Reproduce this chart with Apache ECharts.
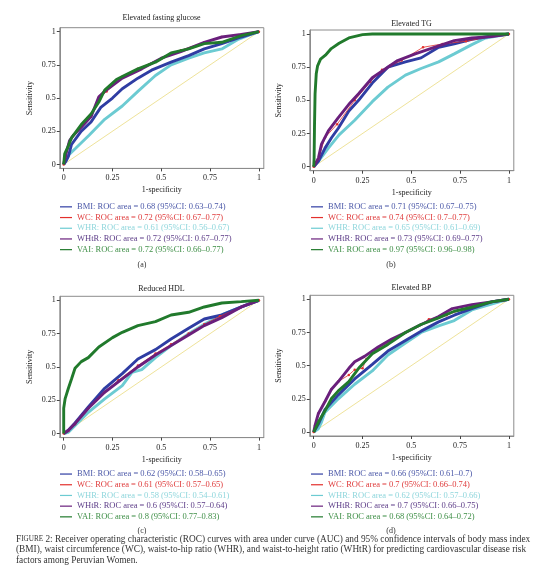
<!DOCTYPE html>
<html>
<head>
<meta charset="utf-8">
<script src="https://cdn.jsdelivr.net/npm/echarts@6/dist/echarts.min.js"></script>
<style>
html,body{margin:0;padding:0;background:#fff;}
#c{width:539px;height:588px;}
</style>
</head>
<body>
<div id="c"></div>
<script>
// ---------- data ----------
const tickVals = [0, 0.25, 0.5, 0.75, 1];
const refLine = [[0, 0], [1, 1]];

// (a) Elevated fasting glucose
const fgLabels = [
  "BMI: ROC area = 0.68 (95%CI: 0.63–0.74)",
  "WC: ROC area = 0.72 (95%CI: 0.67–0.77)",
  "WHR: ROC area = 0.61 (95%CI: 0.56–0.67)",
  "WHtR: ROC area = 0.72 (95%CI: 0.67–0.77)",
  "VAI: ROC area = 0.72 (95%CI: 0.66–0.77)"
];
const fgBMI = [[0,0],[0.01,0.02],[0.024,0.06],[0.04,0.15],[0.09,0.25],[0.14,0.32],[0.19,0.43],[0.25,0.5],[0.3,0.57],[0.38,0.65],[0.45,0.71],[0.55,0.77],[0.64,0.82],[0.72,0.87],[0.81,0.91],[0.91,0.96],[1,1]];
const fgWC = [[0,0],[0.01,0.06],[0.03,0.17],[0.05,0.22],[0.09,0.29],[0.14,0.36],[0.18,0.5],[0.22,0.55],[0.3,0.66],[0.38,0.72],[0.5,0.8],[0.6,0.86],[0.72,0.92],[0.81,0.96],[0.91,0.98],[1,1]];
const fgWHR = [[0,0],[0.024,0.07],[0.06,0.12],[0.13,0.22],[0.21,0.34],[0.3,0.44],[0.38,0.55],[0.47,0.67],[0.55,0.75],[0.64,0.8],[0.72,0.84],[0.81,0.87],[0.89,0.94],[0.98,0.99],[1,1]];
const fgWHtR = [[0,0],[0.01,0.07],[0.03,0.18],[0.05,0.22],[0.09,0.28],[0.14,0.36],[0.18,0.51],[0.21,0.55],[0.3,0.65],[0.4,0.72],[0.5,0.8],[0.6,0.85],[0.72,0.92],[0.81,0.96],[0.91,0.98],[1,1]];
const fgVAI = [[0,0],[0.005,0.08],[0.024,0.14],[0.04,0.2],[0.09,0.3],[0.14,0.38],[0.18,0.47],[0.21,0.56],[0.27,0.64],[0.31,0.67],[0.38,0.72],[0.47,0.77],[0.55,0.84],[0.64,0.87],[0.72,0.91],[0.81,0.92],[0.91,0.97],[1,1]];

// (b) Elevated TG
const tgLabels = [
  "BMI: ROC area = 0.71 (95%CI: 0.67–0.75)",
  "WC: ROC area = 0.74 (95%CI: 0.7–0.77)",
  "WHR: ROC area = 0.65 (95%CI: 0.61–0.69)",
  "WHtR: ROC area = 0.73 (95%CI: 0.69–0.77)",
  "VAI: ROC area = 0.97 (95%CI: 0.96–0.98)"
];
const tgBMI = [[0,0],[0.024,0.04],[0.058,0.14],[0.092,0.22],[0.126,0.29],[0.18,0.42],[0.23,0.5],[0.3,0.63],[0.38,0.75],[0.47,0.79],[0.55,0.82],[0.64,0.9],[0.72,0.925],[0.81,0.96],[0.91,0.985],[1,1]];
const tgWC = [[0,0],[0.024,0.06],[0.058,0.22],[0.12,0.32],[0.21,0.5],[0.29,0.64],[0.35,0.73],[0.39,0.76],[0.45,0.8],[0.56,0.9],[0.66,0.925],[0.78,0.945],[0.9,0.98],[1,1]];
const tgWHR = [[0,0],[0.024,0.04],[0.075,0.14],[0.13,0.24],[0.21,0.35],[0.3,0.49],[0.38,0.6],[0.47,0.69],[0.55,0.74],[0.64,0.79],[0.72,0.85],[0.81,0.92],[0.88,0.97],[1,1]];
const tgWHtR = [[0,0],[0.024,0.065],[0.04,0.17],[0.075,0.27],[0.126,0.37],[0.18,0.47],[0.23,0.55],[0.3,0.67],[0.37,0.74],[0.43,0.8],[0.52,0.85],[0.64,0.91],[0.72,0.95],[0.81,0.97],[0.91,0.98],[1,1]];
const tgVAI = [[0,0],[0.002,0.06],[0.004,0.3],[0.007,0.55],[0.013,0.7],[0.02,0.76],[0.035,0.81],[0.06,0.84],[0.09,0.89],[0.13,0.93],[0.18,0.97],[0.25,0.995],[0.3,1],[1,1]];

// (c) Reduced HDL
const hdlLabels = [
  "BMI: ROC area = 0.62 (95%CI: 0.58–0.65)",
  "WC: ROC area = 0.61 (95%CI: 0.57–0.65)",
  "WHR: ROC area = 0.58 (95%CI: 0.54–0.61)",
  "WHtR: ROC area = 0.6 (95%CI: 0.57–0.64)",
  "VAI: ROC area = 0.8 (95%CI: 0.77–0.83)"
];
const hdlBMI = [[0,0],[0.024,0.025],[0.058,0.08],[0.126,0.2],[0.21,0.34],[0.3,0.45],[0.38,0.56],[0.47,0.63],[0.55,0.71],[0.64,0.79],[0.72,0.86],[0.81,0.89],[0.91,0.95],[1,1]];
const hdlWC = [[0,0],[0.024,0.02],[0.058,0.07],[0.126,0.19],[0.21,0.31],[0.28,0.4],[0.38,0.51],[0.47,0.6],[0.55,0.67],[0.64,0.75],[0.72,0.82],[0.8,0.88],[0.91,0.95],[1,1]];
const hdlWHR = [[0,0],[0.024,0.01],[0.126,0.16],[0.21,0.26],[0.3,0.36],[0.35,0.46],[0.4,0.48],[0.47,0.57],[0.55,0.66],[0.64,0.75],[0.72,0.82],[0.81,0.89],[0.91,0.95],[1,1]];
const hdlWHtR = [[0,0],[0.024,0.025],[0.058,0.075],[0.126,0.19],[0.21,0.31],[0.3,0.41],[0.38,0.5],[0.47,0.59],[0.55,0.66],[0.64,0.74],[0.72,0.81],[0.81,0.87],[0.91,0.95],[1,1]];
const hdlVAI = [[0,0],[0,0.19],[0.007,0.26],[0.024,0.34],[0.04,0.41],[0.058,0.49],[0.09,0.54],[0.126,0.57],[0.18,0.65],[0.25,0.72],[0.3,0.76],[0.38,0.81],[0.47,0.84],[0.55,0.89],[0.64,0.91],[0.72,0.95],[0.81,0.98],[0.91,0.99],[1,1]];

// (d) Elevated BP
const bpLabels = [
  "BMI: ROC area = 0.66 (95%CI: 0.61–0.7)",
  "WC: ROC area = 0.7 (95%CI: 0.66–0.74)",
  "WHR: ROC area = 0.62 (95%CI: 0.57–0.66)",
  "WHtR: ROC area = 0.7 (95%CI: 0.66–0.75)",
  "VAI: ROC area = 0.68 (95%CI: 0.64–0.72)"
];
const bpBMI = [[0,0],[0.024,0.06],[0.058,0.17],[0.126,0.28],[0.21,0.4],[0.3,0.51],[0.38,0.61],[0.47,0.69],[0.55,0.76],[0.64,0.83],[0.72,0.88],[0.81,0.93],[0.91,0.98],[1,1]];
const bpWC = [[0,0],[0.007,0.05],[0.024,0.14],[0.058,0.23],[0.09,0.32],[0.126,0.38],[0.18,0.43],[0.21,0.47],[0.25,0.48],[0.27,0.55],[0.33,0.63],[0.4,0.69],[0.47,0.75],[0.55,0.81],[0.59,0.85],[0.68,0.88],[0.81,0.95],[0.91,0.98],[1,1]];
const bpWHR = [[0,0],[0.024,0.025],[0.04,0.075],[0.058,0.15],[0.126,0.25],[0.21,0.36],[0.3,0.46],[0.38,0.58],[0.47,0.67],[0.55,0.75],[0.64,0.8],[0.72,0.84],[0.81,0.92],[0.88,0.95],[0.95,0.98],[1,1]];
const bpWHtR = [[0,0],[0.007,0.05],[0.024,0.14],[0.058,0.23],[0.09,0.32],[0.126,0.38],[0.18,0.48],[0.21,0.53],[0.26,0.57],[0.33,0.64],[0.4,0.7],[0.47,0.75],[0.55,0.81],[0.64,0.87],[0.71,0.93],[0.81,0.96],[0.91,0.98],[1,1]];
const bpVAI = [[0,0],[0.024,0.075],[0.058,0.16],[0.09,0.25],[0.126,0.31],[0.18,0.38],[0.23,0.48],[0.3,0.59],[0.38,0.66],[0.47,0.75],[0.55,0.81],[0.64,0.86],[0.72,0.91],[0.81,0.94],[0.91,0.98],[1,1]];

const panelTitles = ["Elevated fasting glucose", "Elevated TG", "Reduced HDL", "Elevated BP"];
const panelTags = ["(a)", "(b)", "(c)", "(d)"];
const captionLines = [
  "{sc|F}{sm|IGURE} 2: Receiver operating characteristic (ROC) curves with area under curve (AUC) and 95% confidence intervals of body mass index",
  "(BMI), waist circumference (WC), waist-to-hip ratio (WHR), and waist-to-height ratio (WHtR) for predicting cardiovascular disease risk",
  "factors among Peruvian Women."
];

// ---------- layout & style ----------
const FONT = "Liberation Serif";
const lineColors = ["#2f3da3", "#e3302c", "#6ccbd2", "#6a1f7c", "#217a2c"];
const textColors = ["#4b58a8", "#df3b3b", "#8fd6dc", "#5d3d88", "#3f8f47"];
const zOrder = [3, 4, 2, 5, 6];

const layout = [
  {grid:{left:59.8, top:27.7, width:204, height:140.7}, legend:{left:60, top:201.5}, title:{x:161.5, y:13.5}, tag:{x:142, y:260.5}},
  {grid:{left:309.8, top:30, width:204, height:140.7}, legend:{left:311, top:201.5}, title:{x:411.5, y:19.5}, tag:{x:391, y:260.5}},
  {grid:{left:59.8, top:296.3, width:204, height:141.3}, legend:{left:60, top:468.7}, title:{x:161.5, y:284.5}, tag:{x:142, y:526.5}},
  {grid:{left:309.8, top:295.3, width:204, height:140.7}, legend:{left:311, top:468.7}, title:{x:411.5, y:283.5}, tag:{x:391, y:526.5}}
];
const panelData = [
  [fgBMI, fgWC, fgWHR, fgWHtR, fgVAI],
  [tgBMI, tgWC, tgWHR, tgWHtR, tgVAI],
  [hdlBMI, hdlWC, hdlWHR, hdlWHtR, hdlVAI],
  [bpBMI, bpWC, bpWHR, bpWHtR, bpVAI]
];
const panelLabels = [fgLabels, tgLabels, hdlLabels, bpLabels];
const yNameGap = [26, 27, 26, 27];

const grids = [], xAxes = [], yAxes = [], legends = [], titles = [], series = [];
const axisTextStyle = {fontFamily: FONT, fontSize: 8, color: "#222"};

for (let i = 0; i < 4; i++) {
  const L = layout[i];
  grids.push(Object.assign({show: true, borderColor: "#8c8c8c", borderWidth: 1, backgroundColor: "#fff"}, L.grid));
  xAxes.push({
    type: "value", gridIndex: i, min: -0.02, max: 1.025,
    axisLine: {show: true, onZero: false, lineStyle: {color: "#8c8c8c", width: 1}},
    axisTick: {show: true, customValues: tickVals, length: 3, lineStyle: {color: "#444"}},
    axisLabel: Object.assign({customValues: tickVals, margin: 6}, axisTextStyle),
    splitLine: {show: false},
    name: "1-specificity", nameLocation: "middle", nameGap: 18,
    nameTextStyle: axisTextStyle
  });
  yAxes.push({
    type: "value", gridIndex: i, min: -0.03, max: 1.03,
    axisLine: {show: true, onZero: false, lineStyle: {color: "#8c8c8c", width: 1}},
    axisTick: {show: true, customValues: tickVals, length: 3, lineStyle: {color: "#444"}},
    axisLabel: Object.assign({customValues: tickVals, margin: 4}, axisTextStyle),
    splitLine: {show: false},
    name: "Sensitivity", nameLocation: "middle", nameGap: yNameGap[i],
    nameTextStyle: axisTextStyle
  });
  legends.push({
    orient: "vertical", left: L.legend.left, top: L.legend.top,
    itemWidth: 12, itemHeight: 1.2, icon: "rect", itemGap: 0, padding: 0,
    selectedMode: false,
    textStyle: {fontFamily: FONT, fontSize: 8.5, lineHeight: 10.7},
    data: panelLabels[i].map((n, k) => ({name: n, textStyle: {color: textColors[k]}}))
  });
  titles.push({
    text: panelTitles[i], left: L.title.x, top: L.title.y, textAlign: "center", padding: 0,
    textStyle: {fontFamily: FONT, fontSize: 8, fontWeight: "normal", color: "#222"}
  });
  titles.push({
    text: panelTags[i], left: L.tag.x, top: L.tag.y, textAlign: "center", padding: 0,
    textStyle: {fontFamily: FONT, fontSize: 8, fontWeight: "normal", color: "#333"}
  });
  series.push({
    type: "line", name: "ref" + i, xAxisIndex: i, yAxisIndex: i, data: refLine,
    showSymbol: false, silent: true, z: 1,
    lineStyle: {width: 1, color: "#efe39a"}
  });
  for (let k = 0; k < 5; k++) {
    const isWC = k === 1;
    series.push({
      type: "line", name: panelLabels[i][k], xAxisIndex: i, yAxisIndex: i,
      data: panelData[i][k], silent: true, z: zOrder[k],
      showSymbol: isWC, symbol: "circle", symbolSize: 2.5,
      lineStyle: {width: isWC ? 0.8 : 2.9, color: lineColors[k]},
      itemStyle: {color: lineColors[k]}
    });
  }
}

const capTop = [535, 545.5, 556];
captionLines.forEach((t, j) => {
  titles.push({
    text: t, left: 16, top: capTop[j], padding: 0,
    textStyle: {
      fontFamily: FONT, fontSize: 9.3, fontWeight: "normal", color: "#333",
      rich: {
        sc: {fontFamily: FONT, fontSize: 9.3, color: "#333"},
        sm: {fontFamily: FONT, fontSize: 7.2, color: "#333"}
      }
    }
  });
});

const chart = echarts.init(document.getElementById("c"), null, {renderer: "canvas"});
chart.setOption({
  animation: false,
  backgroundColor: "#fff",
  title: titles,
  legend: legends,
  grid: grids,
  xAxis: xAxes,
  yAxis: yAxes,
  series: series
});
</script>
</body>
</html>
